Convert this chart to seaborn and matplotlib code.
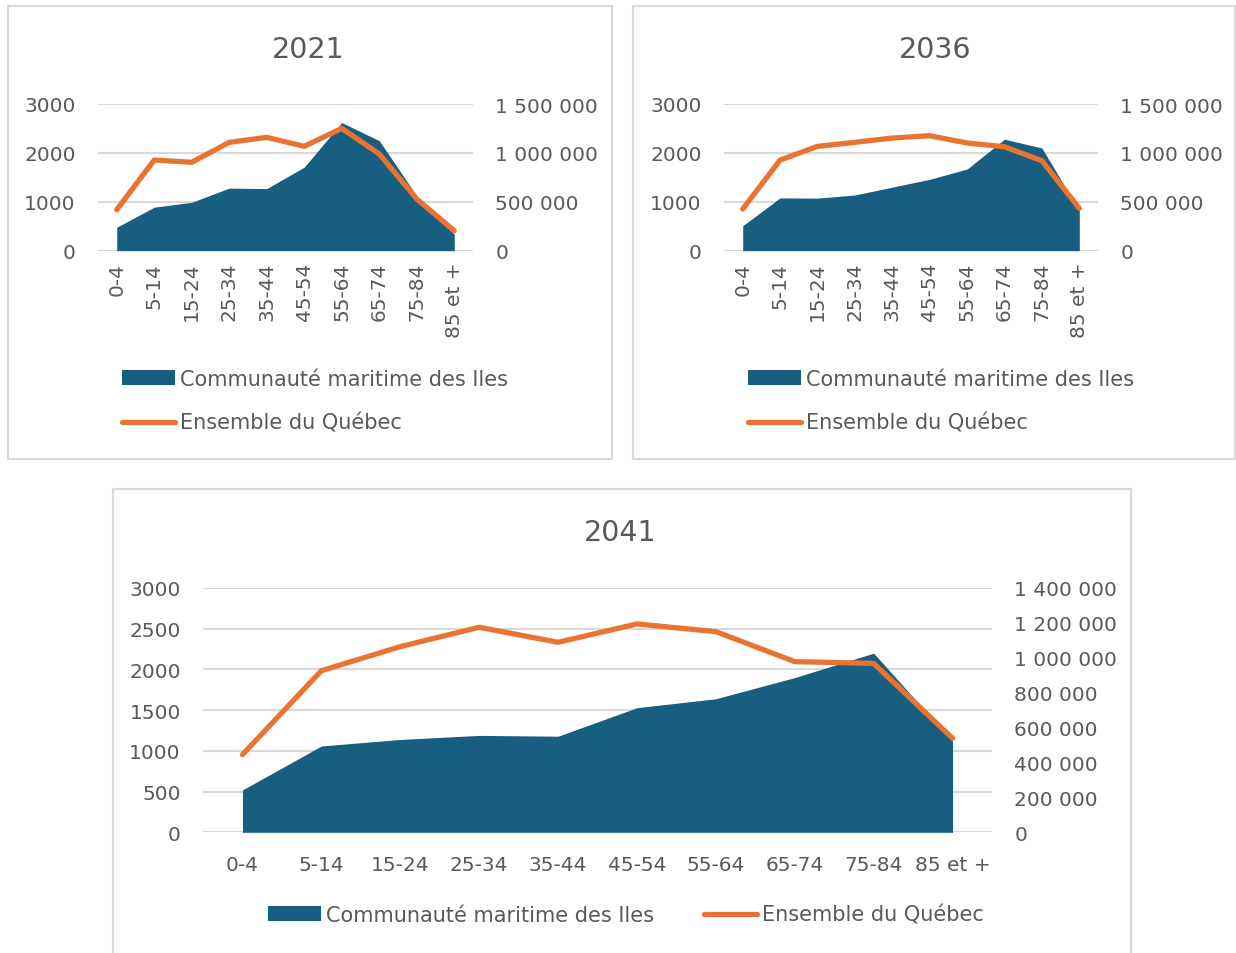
import matplotlib
matplotlib.use('Agg')
import matplotlib.pyplot as plt
import seaborn as sns
import numpy as np
from matplotlib.patches import Patch, Rectangle
from matplotlib.lines import Line2D
from matplotlib.ticker import FuncFormatter, MultipleLocator

# Données : groupes d'âge
groupes = ['0-4', '5-14', '15-24', '25-34', '35-44', '45-54', '55-64', '65-74', '75-84', '85 et +']

iles_2021 = [480, 890, 990, 1280, 1270, 1710, 2620, 2250, 1120, 340]
quebec_2021 = [419000, 927000, 904000, 1108000, 1159000, 1067000, 1251000, 989000, 529000, 204000]

iles_2036 = [510, 1080, 1075, 1140, 1300, 1460, 1670, 2280, 2100, 820]
quebec_2036 = [426000, 927000, 1067000, 1108000, 1152000, 1176000, 1101000, 1063000, 920000, 433000]

iles_2041 = [520, 1060, 1140, 1190, 1180, 1530, 1640, 1900, 2200, 1120]
quebec_2041 = [445000, 926000, 1064000, 1175000, 1089000, 1194000, 1150000, 978000, 968000, 539000]

serie_iles = 'Communauté maritime des Iles'
serie_qc = 'Ensemble du Québec'

BLEU = '#175E80'
ORANGE = '#EB7332'
GRIS = '#595959'
GRILLE = '#D9D9D9'
TAILLE = 14.5
TAILLE_LEG = 15

sns.set_theme(style='white')
plt.rcParams['font.family'] = ['DejaVu Sans']

W, H = 1236, 954
fig = plt.figure(figsize=(W / 100, H / 100), dpi=100)


def fx(px):
    return px / W


def fy(py):
    return 1 - py / H


def cadre(x0, y0, x1, y1):
    fig.patches.append(Rectangle((fx(x0), fy(y1)), fx(x1 - x0), (y1 - y0) / H,
                                 transform=fig.transFigure, fill=False,
                                 edgecolor=GRILLE, linewidth=1.5))


def espaces(v, pos):
    return f'{int(v):,}'.replace(',', ' ')


def panneau(box, iles, quebec, ymax2, step2, rot, xpad, ylabpad):
    l, t, r, b = box
    ax = fig.add_axes([fx(l), fy(b), fx(r - l), (b - t) / H])
    x = np.arange(len(groupes))
    ax.fill_between(x, 0, iles, color=BLEU, linewidth=0, zorder=2)
    ax.set_xlim(-0.5, len(groupes) - 0.5)
    ax.set_ylim(0, 3000)
    ax.set_axisbelow(True)
    ax.yaxis.grid(True, color=GRILLE, linewidth=1.5)
    ax.xaxis.grid(False)
    for s in ax.spines.values():
        s.set_visible(False)
    ax.set_xticks(x)
    ax.set_xticklabels(groupes, rotation=rot, color=GRIS, fontsize=TAILLE,
                       va='top', ha='center')
    ax.tick_params(axis='both', length=0)
    ax.tick_params(axis='x', pad=xpad)
    ax.tick_params(axis='y', pad=ylabpad, labelcolor=GRIS, labelsize=TAILLE)

    ax2 = ax.twinx()
    sns.lineplot(x=x, y=quebec, ax=ax2, color=ORANGE, linewidth=3.8,
                 legend=False, solid_capstyle='round', solid_joinstyle='round')
    ax2.set_ylim(0, ymax2)
    ax2.yaxis.set_major_locator(MultipleLocator(step2))
    ax2.yaxis.set_major_formatter(FuncFormatter(espaces))
    ax2.grid(False)
    for s in ax2.spines.values():
        s.set_visible(False)
    ax2.tick_params(axis='y', length=0, pad=ylabpad, labelcolor=GRIS, labelsize=TAILLE)
    ax2.set_ylabel('')
    return ax, ax2


poignees = [Patch(facecolor=BLEU, edgecolor='none'),
            Line2D([0], [0], color=ORANGE, linewidth=3.8, solid_capstyle='round')]

# 2021
cadre(8, 7, 612, 460)
panneau((98, 105, 473, 251.7), iles_2021, quebec_2021, 1500000, 500000, 90, 8, 16)
fig.text(fx(308), fy(50), '2021', ha='center', va='center', fontsize=20.5, color=GRIS)
fig.legend(poignees, [serie_iles, serie_qc], loc='center left',
           bbox_to_anchor=(fx(122), fy(402)), frameon=False, fontsize=TAILLE_LEG,
           labelcolor=GRIS, handlelength=2.55, handletextpad=0.25,
           labelspacing=1.15, borderpad=0, borderaxespad=0)

# 2036
cadre(633, 7, 1235, 460)
panneau((724, 105, 1098, 251.7), iles_2036, quebec_2036, 1500000, 500000, 90, 8, 16)
fig.text(fx(935), fy(50), '2036', ha='center', va='center', fontsize=20.5, color=GRIS)
fig.legend(poignees, [serie_iles, serie_qc], loc='center left',
           bbox_to_anchor=(fx(748), fy(402)), frameon=False, fontsize=TAILLE_LEG,
           labelcolor=GRIS, handlelength=2.55, handletextpad=0.25,
           labelspacing=1.15, borderpad=0, borderaxespad=0)

# 2041
cadre(113, 490, 1131, 960)
panneau((203, 589, 992, 833.3), iles_2041, quebec_2041, 1400000, 200000, 0, 16, 16)
fig.text(fx(620), fy(533), '2041', ha='center', va='center', fontsize=20.5, color=GRIS)
fig.legend(poignees, [serie_iles, serie_qc], loc='center',
           bbox_to_anchor=(fx(626), fy(916)), ncol=2, frameon=False, fontsize=TAILLE_LEG,
           labelcolor=GRIS, handlelength=2.55, handletextpad=0.25,
           columnspacing=2.4, borderpad=0, borderaxespad=0)

fig.savefig('out.png', dpi=100)
